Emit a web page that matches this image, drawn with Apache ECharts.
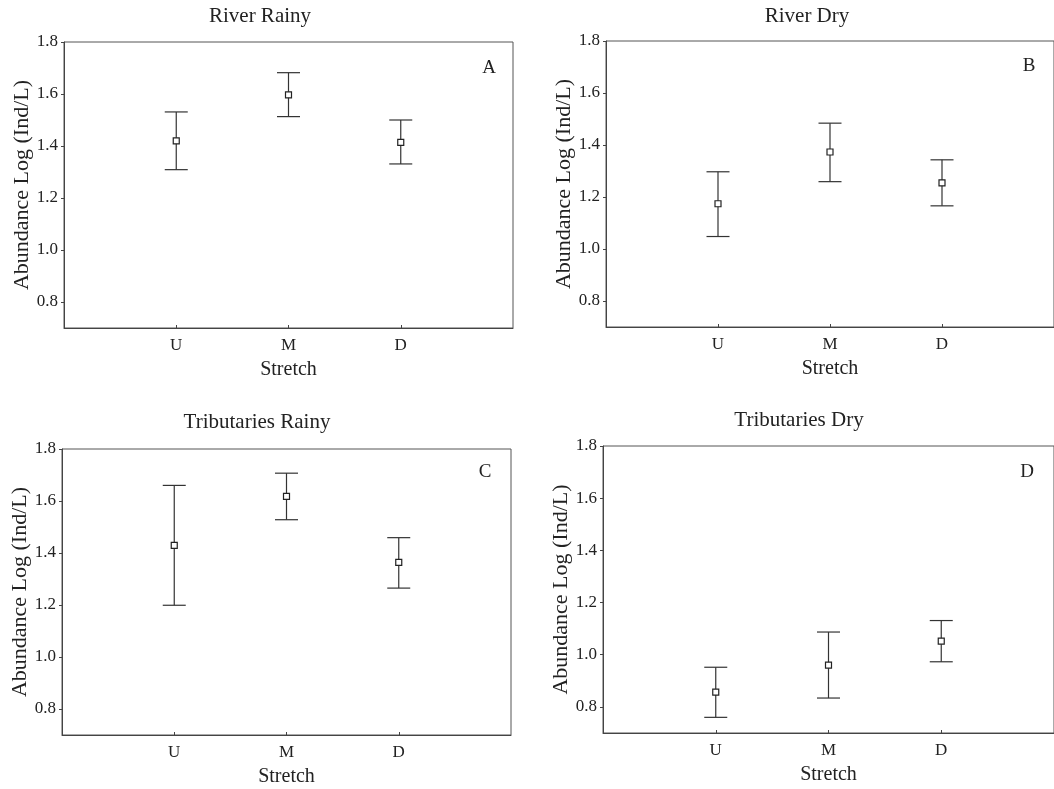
<!DOCTYPE html>
<html>
<head>
<meta charset="utf-8">
<script src="https://cdn.jsdelivr.net/npm/echarts@6/dist/echarts.min.js"></script>
<style>
  html, body { margin: 0; padding: 0; background: #fff; }
  #chart { width: 1054px; height: 789px; }
</style>
</head>
<body>
<div id="chart"></div>
<script>
const stretches = ['U', 'M', 'D']
const yTicks = [0.8, 1.0, 1.2, 1.4, 1.6, 1.8]

const riverRainyMean = [1.420, 1.597, 1.414]
const riverRainyUpper = [1.531, 1.682, 1.500]
const riverRainyLower = [1.309, 1.513, 1.331]

const riverDryMean = [1.174, 1.373, 1.254]
const riverDryUpper = [1.297, 1.484, 1.343]
const riverDryLower = [1.048, 1.259, 1.166]

const tribRainyMean = [1.429, 1.618, 1.364]
const tribRainyUpper = [1.660, 1.707, 1.459]
const tribRainyLower = [1.199, 1.528, 1.265]

const tribDryMean = [0.857, 0.960, 1.052]
const tribDryUpper = [0.952, 1.087, 1.131]
const tribDryLower = [0.760, 0.834, 0.973]

const panels = [
  { title: 'River Rainy', letter: 'A', mean: riverRainyMean, upper: riverRainyUpper, lower: riverRainyLower,
    grid: { left: 64, top: 42, width: 449, height: 286 }, titlePos: [260, 6], letterPos: [489, 59] },
  { title: 'River Dry', letter: 'B', mean: riverDryMean, upper: riverDryUpper, lower: riverDryLower,
    grid: { left: 606, top: 41, width: 450, height: 286 }, titlePos: [807, 6], letterPos: [1029, 57] },
  { title: 'Tributaries Rainy', letter: 'C', mean: tribRainyMean, upper: tribRainyUpper, lower: tribRainyLower,
    grid: { left: 62, top: 449, width: 449, height: 286 }, titlePos: [257, 412], letterPos: [485, 463] },
  { title: 'Tributaries Dry', letter: 'D', mean: tribDryMean, upper: tribDryUpper, lower: tribDryLower,
    grid: { left: 603, top: 446, width: 452, height: 287 }, titlePos: [799, 410], letterPos: [1027, 463] }
]

const font = 'Liberation Serif'
const ink = '#222'
const lineCol = '#333'

const chart = echarts.init(document.getElementById('chart'))

let grids = [], xAxes = [], yAxes = [], series = [], titles = []

panels.forEach((p, i) => {
  grids.push(Object.assign({ show: true, borderColor: '#555', borderWidth: 1, containLabel: false }, p.grid))
  xAxes.push({
    gridIndex: i,
    type: 'value',
    min: 0,
    max: 4,
    name: 'Stretch',
    nameLocation: 'middle',
    nameGap: 32,
    nameTextStyle: { fontFamily: font, fontSize: 20, color: ink },
    axisLine: { show: true, lineStyle: { color: '#444' } },
    axisTick: { show: true, inside: true, length: 3, customValues: [1, 2, 3], lineStyle: { color: '#444' } },
    axisLabel: {
      customValues: [1, 2, 3],
      formatter: v => stretches[Math.round(v) - 1] || '',
      fontFamily: font, fontSize: 17, color: ink, margin: 9
    },
    splitLine: { show: false }
  })
  yAxes.push({
    gridIndex: i,
    type: 'value',
    min: 0.7,
    max: 1.8,
    name: 'Abundance Log (Ind/L)',
    nameLocation: 'middle',
    nameGap: 30,
    nameTextStyle: { fontFamily: font, fontSize: 22, color: ink },
    axisLine: { show: true, lineStyle: { color: '#444' } },
    axisTick: { show: true, length: 3, customValues: yTicks, lineStyle: { color: '#444' } },
    axisLabel: {
      customValues: yTicks,
      formatter: v => v.toFixed(1),
      fontFamily: font, fontSize: 17, color: ink, margin: 6
    },
    splitLine: { show: false }
  })

  const barData = p.mean.map((m, k) => [k + 1, p.lower[k], p.upper[k]])
  series.push({
    type: 'custom',
    xAxisIndex: i,
    yAxisIndex: i,
    data: barData,
    encode: { x: 0, y: [1, 2] },
    z: 2,
    renderItem: (params, api) => {
      const x = api.value(0)
      const lo = api.coord([x, api.value(1)])
      const hi = api.coord([x, api.value(2)])
      const cap = 11.5
      const style = { stroke: lineCol, lineWidth: 1.2 }
      return {
        type: 'group',
        children: [
          { type: 'line', shape: { x1: lo[0], y1: lo[1], x2: hi[0], y2: hi[1] }, style },
          { type: 'line', shape: { x1: hi[0] - cap, y1: hi[1], x2: hi[0] + cap, y2: hi[1] }, style },
          { type: 'line', shape: { x1: lo[0] - cap, y1: lo[1], x2: lo[0] + cap, y2: lo[1] }, style }
        ]
      }
    }
  })
  series.push({
    type: 'scatter',
    xAxisIndex: i,
    yAxisIndex: i,
    data: p.mean.map((m, k) => [k + 1, m]),
    symbol: 'rect',
    symbolSize: 6,
    z: 3,
    itemStyle: { color: '#fff', borderColor: '#222', borderWidth: 1.2, opacity: 1 }
  })

  titles.push({
    text: p.title,
    left: p.titlePos[0],
    top: p.titlePos[1],
    textAlign: 'center',
    padding: 0,
    textStyle: { fontFamily: font, fontSize: 21, fontWeight: 'normal', color: ink }
  })
  titles.push({
    text: p.letter,
    left: p.letterPos[0],
    top: p.letterPos[1],
    textAlign: 'center',
    padding: 0,
    textStyle: { fontFamily: font, fontSize: 19, fontWeight: 'normal', color: ink }
  })
})

chart.setOption({
  animation: false,
  backgroundColor: '#fff',
  title: titles,
  grid: grids,
  xAxis: xAxes,
  yAxis: yAxes,
  series: series
})
</script>
</body>
</html>
